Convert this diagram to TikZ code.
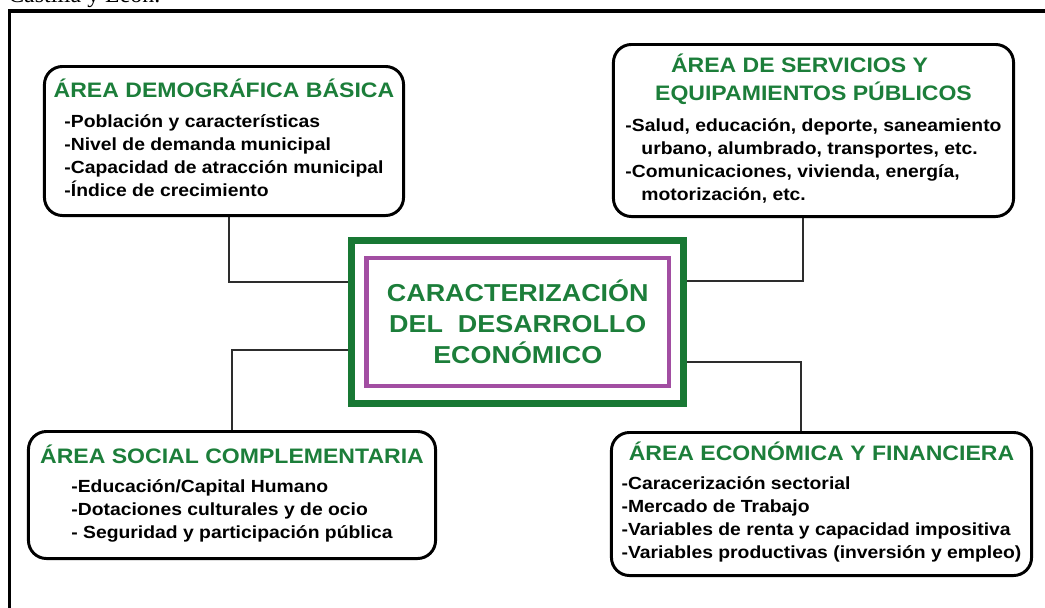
\documentclass[tikz,border=0pt]{standalone}
\usepackage{fontspec}
\setmainfont{Liberation Sans}[FakeStretch=1.1]
\newfontfamily\captionserif{Liberation Serif}
\usepackage{array}
\usetikzlibrary{positioning}
\definecolor{areagreen}{RGB}{28,126,58}
\definecolor{coregreen}{RGB}{24,120,52}
\definecolor{corepurple}{RGB}{162,78,162}
\definecolor{linkgray}{RGB}{45,45,45}
\newcommand{\areatitle}[1]{{\fontsize{14.9pt}{18pt}\selectfont\bfseries\color{areagreen}#1}}

\begin{document}
\begin{tikzpicture}[x=0.025cm, y=-0.025cm,
  areabox/.style={draw, line width=2.1pt, rounded corners=0.45cm, inner sep=0pt, align=center,
    font=\fontsize{12.5pt}{16.4pt}\selectfont\bfseries},
  coretext/.style={draw=corepurple, line width=3.2pt, inner sep=0pt, align=center, text=areagreen,
    font=\fontsize{17.4pt}{22pt}\selectfont\bfseries, minimum width=7.56cm, minimum height=3.2cm},
  coreframe/.style={draw=coregreen, line width=5pt, minimum width=8.3cm, minimum height=4.075cm},
  link/.style={draw=linkgray, line width=1pt}]
\useasboundingbox (0,0) rectangle (1045,607);
\draw[line width=2.8pt] (9.5,11) rectangle (1060,620);
\node[anchor=base west, inner sep=0pt, font=\captionserif\fontsize{17pt}{20pt}\selectfont] (caption) at (8,2) {Castilla y León.};

\node[coretext] (nucleo) at (517.75,322) {CARACTERIZACIÓN\\DEL\ \ DESARROLLO\\ECONÓMICO};
\node[coreframe] (marco) at (nucleo) {};

\node[areabox, minimum width=8.975cm, minimum height=3.725cm] (demo) at (224,141)
  {\areatitle{ÁREA DEMOGRÁFICA BÁSICA}\\[4.6pt]
   \begin{tabular}[t]{@{}l@{}}
   -Población y características\\
   -Nivel de demanda municipal\\
   -Capacidad de atracción municipal\\
   -Índice de crecimiento
   \end{tabular}};
\node[areabox, minimum width=10cm, minimum height=4.3cm] (serv) at (813.5,130.5)
  {\areatitle{ÁREA DE SERVICIOS Y}\hspace*{0.7cm}\\[3.5pt]
   \areatitle{EQUIPAMIENTOS PÚBLICOS}\hspace*{0.7cm}\\[5.6pt]
   \begin{tabular}[t]{@{}l@{}}
   -Salud, educación, deporte, saneamiento\\
   \hspace*{0.4cm}urbano, alumbrado, transportes, etc.\\
   -Comunicaciones, vivienda, energía,\\
   \hspace*{0.4cm}motorización, etc.
   \end{tabular}};
\node[areabox, minimum width=10.175cm, minimum height=3.175cm] (social) at (232,495)
  {\areatitle{ÁREA SOCIAL COMPLEMENTARIA}\\[4.6pt]
   \begin{tabular}[t]{@{}l@{}}
   -Educación/Capital Humano\\
   -Dotaciones culturales y de ocio\\
   - Seguridad y participación pública
   \end{tabular}};
\node[areabox, minimum width=10.5cm, minimum height=3.575cm] (econ) at (821.5,504)
  {\areatitle{ÁREA ECONÓMICA Y FINANCIERA}\\[3.9pt]
   \begin{tabular}[t]{@{}l@{}}
   -Caracerización sectorial\\
   -Mercado de Trabajo\\
   -Variables de renta y capacidad impositiva\\
   -Variables productivas (inversión y empleo)
   \end{tabular}};

\draw[link] ([xshift=0.125cm]demo.south) |- ([yshift=1cm]marco.west);
\draw[link] ([xshift=-0.26cm]serv.south) |- ([yshift=1.025cm]marco.east);
\draw[link] ([yshift=-0.7cm]marco.west) -| (social.north);
\draw[link] ([yshift=-1cm]marco.east) -| ([xshift=-0.51cm]econ.north);
\end{tikzpicture}
\end{document}
